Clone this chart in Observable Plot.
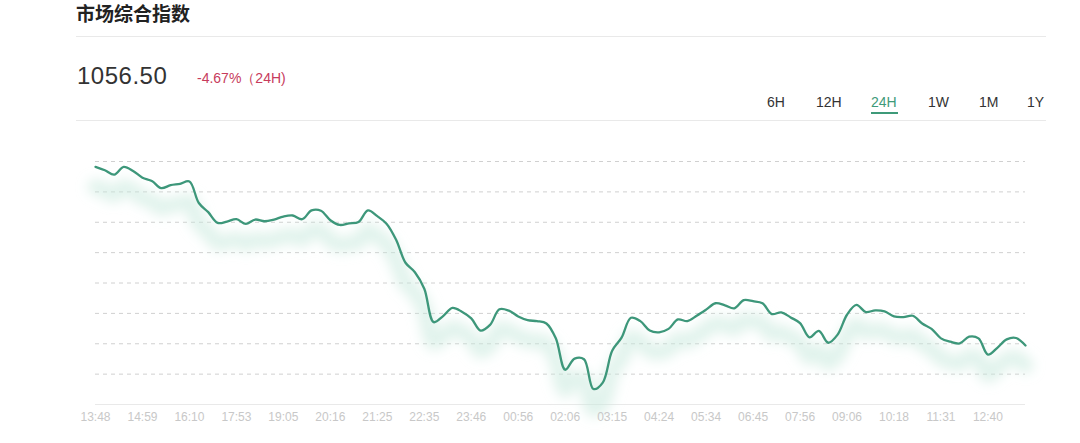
<!DOCTYPE html>
<html><head><meta charset="utf-8">
<script src="https://cdn.jsdelivr.net/npm/d3@7"></script>
<script src="https://cdn.jsdelivr.net/npm/@observablehq/plot@0.6"></script>
<style>
body{margin:0;background:#fff;width:1080px;height:443px;overflow:hidden;position:relative;font-family:"Liberation Sans",Arial,sans-serif;}
.abs{position:absolute;white-space:nowrap;line-height:1;}
#title{left:76px;top:3px;font-family:"Noto Sans CJK SC",sans-serif;font-weight:700;font-size:19px;color:#222;}
.hr{position:absolute;left:76px;width:970px;height:1px;background:#e9e9e9;}
#price{left:77px;top:64px;font-size:24px;color:#333;letter-spacing:0.5px;}
#change{left:197px;top:71px;font-size:14px;color:#c73b5c;}
.tab{position:absolute;top:95px;font-size:14px;color:#333;line-height:1;white-space:nowrap;}
.tab.active{color:#3e9a79;}
#underline{position:absolute;left:871px;top:112px;width:27px;height:2px;background:#3e9a79;}
#chart{position:absolute;left:0;top:130px;}
</style></head>
<body>
<div id="title" class="abs"></div>
<div class="hr" style="top:36px"></div>
<div id="price" class="abs"></div>
<div id="change" class="abs"></div>
<div id="tabs"></div>
<div id="underline"></div>
<div class="hr" style="top:120px"></div>
<div id="chart"></div>
<script>
const titleText = "市场综合指数";
const priceText = "1056.50";
const changeText = "-4.67%（24H)";
const tabs = ["6H","12H","24H","1W","1M","1Y"];
const tabLeft = [767, 816, 871, 928, 979, 1027];
const activeTab = "24H";
const timeLabels = ["13:48","14:59","16:10","17:53","19:05","20:16","21:25","22:35","23:46","00:56","02:06","03:15","04:24","05:34","06:45","07:56","09:06","10:18","11:31","12:40"];
const labelEvery = 5;
const indexValues = [
1109.4,1108.4,1107.1,1109.4,1108.2,1106.2,1105.2,1103.1,1104.0,1104.4,
1105.1,1098.7,1096.0,1092.8,1093.2,1093.9,1092.5,1093.8,1093.3,1093.8,
1094.7,1095.0,1093.9,1096.5,1096.4,1093.6,1092.2,1092.7,1093.1,1096.5,
1094.8,1092.5,1087.8,1081.0,1078.2,1073.3,1063.4,1065.2,1067.6,1066.5,
1064.5,1060.9,1062.6,1067.2,1066.8,1065.1,1064.0,1063.7,1063.0,1058.6,
1049.3,1052.6,1052.4,1043.6,1045.5,1054.9,1058.8,1064.7,1063.7,1060.9,
1060.4,1061.4,1064.2,1063.7,1065.3,1067.1,1069.0,1068.4,1067.5,1069.9,
1069.6,1069.0,1065.8,1066.3,1064.8,1063.1,1058.9,1060.8,1057.3,1059.7,
1065.6,1068.5,1066.4,1066.9,1066.6,1065.1,1064.9,1065.3,1063.0,1061.4,
1058.6,1057.6,1057.1,1059.1,1058.6,1053.8,1055.8,1058.3,1058.7,1056.5];
const yMin = 1039, yMax = 1111, gridStep = 9;

document.getElementById("title").textContent = titleText;
document.getElementById("price").textContent = priceText;
document.getElementById("change").textContent = changeText;
const tabsEl = document.getElementById("tabs");
tabs.forEach((t, k) => {
  const d = document.createElement("div");
  d.className = "tab" + (t === activeTab ? " active" : "");
  d.style.left = tabLeft[k] + "px";
  d.textContent = t;
  tabsEl.appendChild(d);
});

const data = indexValues.map((v, i) => ({idx: i, value: v}));
const ticks = d3.range(yMin, yMax + 0.001, gridStep);
const plot = Plot.plot({
  width: 1080, height: 313,
  marginLeft: 95, marginRight: 55, marginTop: 31, marginBottom: 39,
  x: {domain: [0, indexValues.length - 1], axis: null, label: null},
  y: {domain: [yMin, yMax], axis: null, label: null},
  style: {background: "transparent", fontFamily: "Liberation Sans, Arial, sans-serif", overflow: "visible"},
  marks: [
    Plot.ruleY(ticks.filter(t => t !== yMin), {stroke: "#d0d0d0", strokeDasharray: "4,4", strokeWidth: 1}),
    Plot.ruleY([yMin], {stroke: "#e9e9e9", strokeWidth: 1}),
    Plot.line(data, {x: "idx", y: "value", dy: 20, stroke: "#c8eadc", strokeWidth: 16, strokeOpacity: 0.55, curve: "catmull-rom"}),
    Plot.line(data, {x: "idx", y: "value", stroke: "#3d977a", strokeWidth: 2.3, curve: "catmull-rom"}),
    Plot.axisX(d3.range(0, indexValues.length, labelEvery), {
      tickFormat: i => timeLabels[i / labelEvery], tickSize: 0, tickPadding: 8,
      fontSize: 12, color: "#c8c8c8", label: null
    })
  ]
});
document.getElementById("chart").appendChild(plot);

// soft blurred glow under the line
const svg = d3.select(plot);
const defs = svg.insert("defs", ":first-child");
defs.append("filter").attr("id", "shadowBlur")
  .attr("x", "-5%").attr("y", "-50%").attr("width", "110%").attr("height", "200%")
  .append("feGaussianBlur").attr("stdDeviation", 6);
const lineGroups = plot.querySelectorAll('g[aria-label="line"]');
if (lineGroups.length) d3.select(lineGroups[0]).attr("filter", "url(#shadowBlur)");
</script>
</body></html>
